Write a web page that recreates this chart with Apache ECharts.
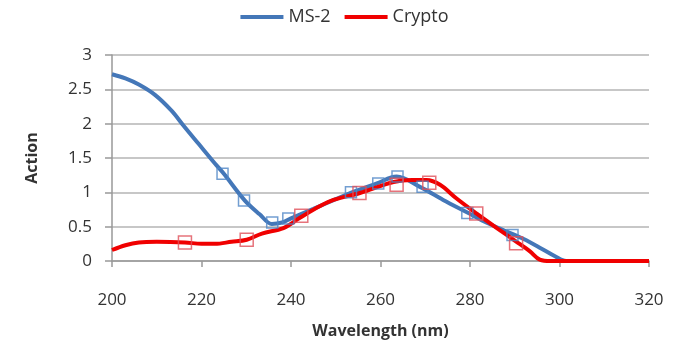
<!DOCTYPE html>
<html>
<head>
<meta charset="utf-8">
<script src="https://cdn.jsdelivr.net/npm/echarts@6/dist/echarts.min.js"></script>
<style>
    html, body { margin: 0; padding: 0; background: #fff; }
    #chart { width: 689px; height: 346px; }
</style>
</head>
<body>
<div id="chart"></div>
<script>
    // MS-2 curve (smooth line)
    var ms2Wave = [200, 203, 206, 209.6, 213.3, 216, 219.3, 223, 225, 229.7, 233, 235.7, 238, 240, 245, 250, 253.2, 259.2, 263.6, 268.8, 274, 279.3, 284, 288.2, 292, 296, 299, 301.5, 320];
    var ms2Val = [2.72, 2.66, 2.57, 2.42, 2.19, 1.97, 1.71, 1.42, 1.27, 0.88, 0.68, 0.54, 0.56, 0.62, 0.76, 0.90, 0.99, 1.13, 1.23, 1.08, 0.89, 0.71, 0.55, 0.43, 0.32, 0.18, 0.07, 0.0, 0.0];
    // Crypto curve (smooth line)
    var cryptoWave = [200, 203, 206, 210, 216.3, 220, 223, 226.7, 230.1, 233.5, 238.3, 242, 246.5, 249.5, 255.4, 262.9, 267, 270.3, 273.3, 277, 281.5, 286, 290.4, 293.4, 295.6, 298, 320];
    var cryptoVal = [0.16, 0.23, 0.27, 0.28, 0.27, 0.25, 0.25, 0.28, 0.31, 0.40, 0.48, 0.63, 0.80, 0.89, 0.99, 1.15, 1.18, 1.18, 1.11, 0.91, 0.69, 0.48, 0.28, 0.14, 0.02, 0, 0];
    // measured points (hollow squares)
    var ms2PtWave = [224.7, 229.5, 235.8, 239.4, 253.4, 259.5, 263.8, 269.4, 279.4, 289.5];
    var ms2PtVal = [1.27, 0.88, 0.56, 0.62, 1.0, 1.13, 1.23, 1.08, 0.70, 0.38];
    var cryptoPtWave = [216.3, 230.1, 242.3, 255.3, 263.6, 270.9, 281.4, 290.3];
    var cryptoPtVal = [0.27, 0.31, 0.66, 0.99, 1.11, 1.14, 0.69, 0.26];

    function pairs(xs, ys) {
        return xs.map(function (x, i) { return [x, ys[i]]; });
    }

    var font = '"Open Sans", "Noto Sans", sans-serif';
    var myChart = echarts.init(document.getElementById('chart'));

    var option = {
        animation: false,
        textStyle: { fontFamily: font },
        legend: {
            data: [
                { name: 'MS-2', icon: 'rect' },
                { name: 'Crypto', icon: 'rect' }
            ],
            top: 3,
            left: 'center',
            itemWidth: 43,
            itemHeight: 4,
            itemGap: 14,
            textStyle: { fontSize: 18, color: '#333', fontFamily: font }
        },
        grid: { left: 112, right: 40, top: 55, bottom: 85 },
        xAxis: {
            type: 'value',
            min: 200,
            max: 320,
            interval: 20,
            name: 'Wavelength (nm)',
            nameLocation: 'middle',
            nameGap: 62,
            nameTextStyle: { fontSize: 16, fontWeight: 'bold', color: '#333', fontFamily: font },
            axisLine: { lineStyle: { color: '#999', width: 1.5 } },
            axisTick: { show: true, length: 6, lineStyle: { color: '#999', width: 1.5 } },
            axisLabel: { fontSize: 17, color: '#333', margin: 31 },
            splitLine: { show: false }
        },
        yAxis: {
            type: 'value',
            min: 0,
            max: 3,
            interval: 0.5,
            name: 'Action',
            nameLocation: 'middle',
            nameGap: 72,
            nameRotate: 90,
            nameTextStyle: { fontSize: 16, fontWeight: 'bold', color: '#333', fontFamily: font },
            axisLine: { show: true, lineStyle: { color: '#999', width: 1.5 } },
            axisTick: { show: true, length: 7, lineStyle: { color: '#999', width: 1.5 } },
            axisLabel: { fontSize: 17, color: '#333', margin: 20 },
            splitLine: { show: true, lineStyle: { color: '#b5b5b5', width: 1.5 } }
        },
        series: [
            {
                name: 'MS-2',
                type: 'line',
                smooth: 0.35,
                showSymbol: false,
                symbol: 'none',
                data: pairs(ms2Wave, ms2Val),
                lineStyle: { color: '#4477b8', width: 4 },
                itemStyle: { color: '#4477b8' },
                z: 2
            },
            {
                name: 'Crypto',
                type: 'line',
                smooth: 0.35,
                showSymbol: false,
                symbol: 'none',
                data: pairs(cryptoWave, cryptoVal),
                lineStyle: { color: '#f00000', width: 4 },
                itemStyle: { color: '#f00000' },
                z: 3
            },
            {
                name: 'MS-2 points',
                type: 'scatter',
                symbol: 'rect',
                symbolSize: 11,
                data: pairs(ms2PtWave, ms2PtVal),
                itemStyle: { color: 'rgba(255,255,255,0)', borderColor: '#4f86c6', borderWidth: 1.5 },
                z: 4
            },
            {
                name: 'Crypto points',
                type: 'scatter',
                symbol: 'rect',
                symbolSize: 13,
                data: pairs(cryptoPtWave, cryptoPtVal),
                itemStyle: { color: 'rgba(255,255,255,0)', borderColor: '#e0505a', borderWidth: 1.5 },
                z: 5
            }
        ]
    };
    myChart.setOption(option);
</script>
</body>
</html>
